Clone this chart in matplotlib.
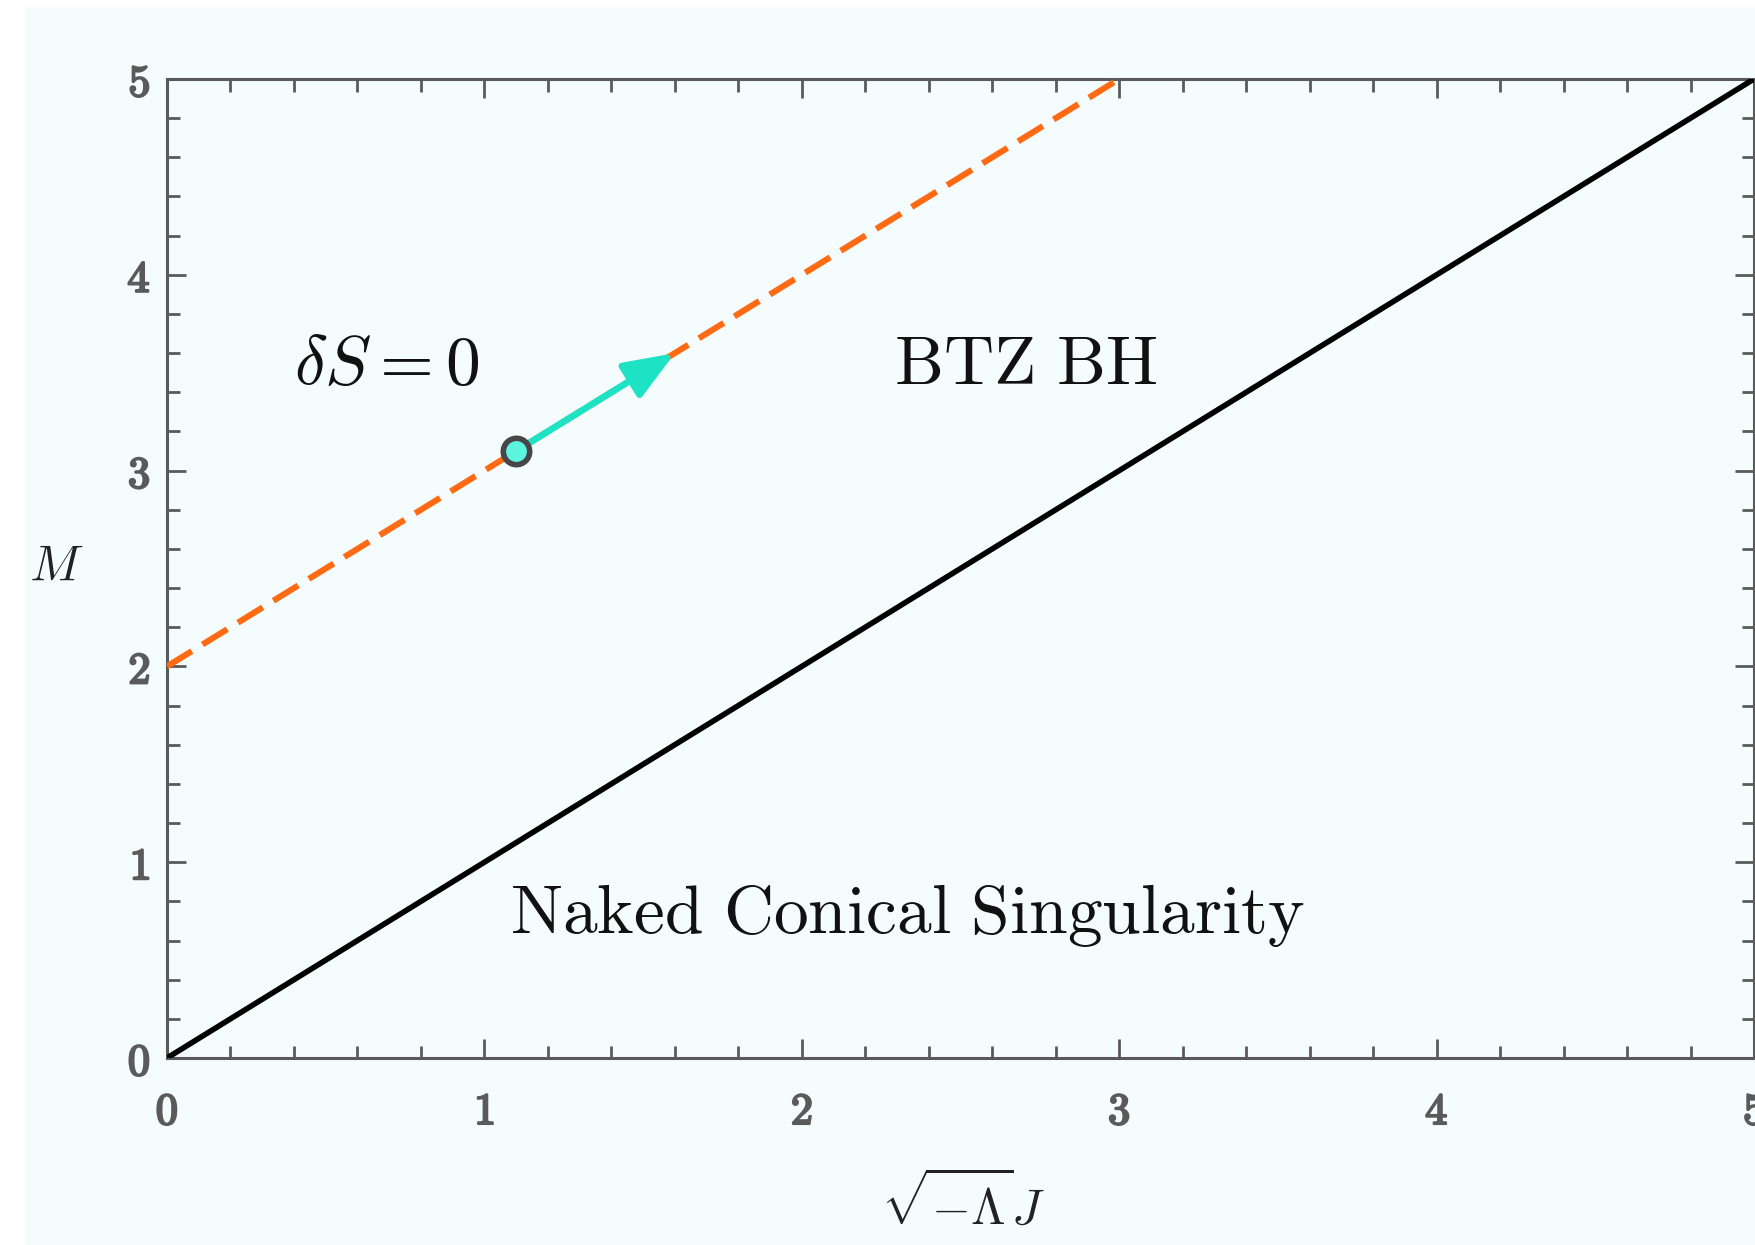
import matplotlib
matplotlib.use("Agg")
import matplotlib.pyplot as plt
import matplotlib.patheffects as pe
import numpy as np
from matplotlib.patches import Rectangle

plt.rcParams['mathtext.fontset'] = 'cm'
plt.rcParams['font.family'] = 'serif'
plt.rcParams['font.serif'] = ['DejaVu Serif']
plt.rcParams['lines.scale_dashes'] = False

# data
btz_x = [0, 5]
btz_y = [0, 5]
ds0_x = [0, 3]
ds0_y = [2, 5]
point = (1.1, 3.1)
arrow_tip = (1.6, 3.6)
ticks = [0, 1, 2, 3, 4, 5]

bg = '#f5fcfd'
tick_col = '#5a5a5a'

fig = plt.figure(figsize=(17.56, 12.45), dpi=100, facecolor='white')
fig.patches.append(Rectangle((25 / 1756, 0), 1, 1 - 7 / 1245, transform=fig.transFigure,
                             facecolor=bg, edgecolor='none', zorder=-10))
ax = fig.add_axes([167 / 1756, 1 - 1058 / 1245, (1754 - 167) / 1756, (1058 - 79) / 1245])
ax.set_facecolor(bg)

ax.plot(btz_x, btz_y, color='black', lw=4.0, solid_capstyle='butt', zorder=3)
ax.plot(ds0_x, ds0_y, color='#ff6a13', lw=4.4, dashes=(21, 9), dash_capstyle='butt', zorder=3)

ax.annotate('', xy=arrow_tip, xytext=point,
            arrowprops=dict(arrowstyle='-|>,head_length=1.4,head_width=0.55', color='#1de3c4',
                            lw=4.8, mutation_scale=22, shrinkA=0, shrinkB=0), zorder=4)
ax.plot([point[0]], [point[1]], 'o', ms=19, mfc='#5ef5e0', mec='#474747', mew=4, zorder=5)

ax.set_xlim(0, 5)
ax.set_ylim(0, 5)
ax.set_xticks(ticks)
ax.set_yticks(ticks)
ax.set_xticks(np.arange(0, 5.01, 0.2), minor=True)
ax.set_yticks(np.arange(0, 5.01, 0.2), minor=True)
ax.set_xticklabels([r'$\mathbf{%d}$' % t for t in ticks])
ax.set_yticklabels([r'$\mathbf{%d}$' % t for t in ticks])
ax.tick_params(which='both', direction='in', top=True, right=True, color=tick_col, width=2)
ax.tick_params(which='major', length=14, labelsize=32, labelcolor=tick_col)
ax.tick_params(which='minor', length=9)
ax.tick_params(axis='x', which='major', pad=23)
ax.tick_params(axis='y', which='major', pad=12)
for lab in ax.get_xticklabels() + ax.get_yticklabels():
    lab.set_path_effects([pe.withStroke(linewidth=1.6, foreground=tick_col)])
for sp in ax.spines.values():
    sp.set_color(tick_col)
    sp.set_linewidth(2.2)

ax.text(1.08, 0.73, r'$\mathrm{Naked\ Conical\ Singularity}$', fontsize=50, color='#111111', va='center', ha='left')
ax.text(2.29, 3.54, r'$\mathrm{BTZ\ BH}$', fontsize=50, color='#111111', va='center', ha='left')
ax.text(0.40, 3.54, r'$\delta S = 0$', fontsize=50, color='#111111', va='center', ha='left')

fig.text(56 / 1756, 1 - 566 / 1245, r'$M$', fontsize=36, color='#222222', ha='center', va='center')
fig.text(963 / 1756, 1 - 1204 / 1245, r'$\sqrt{-\Lambda}J$', fontsize=36, color='#222222', ha='center', va='center')

fig.savefig('out.png', dpi=100, facecolor='white')
